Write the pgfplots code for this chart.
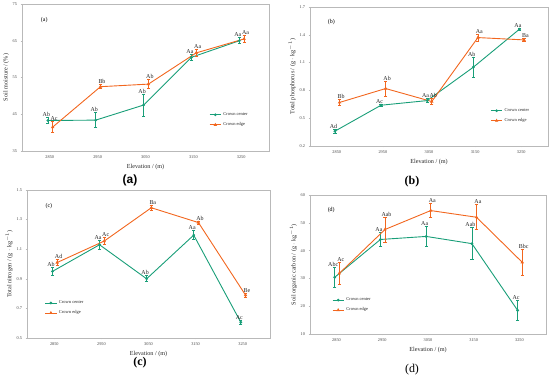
\documentclass[border=0pt]{standalone}
\usepackage{fontspec}
\setmainfont{Liberation Serif}
\newfontfamily\sansf{Liberation Sans}
\usepackage{pgfplots}
\usepackage{pgfplotstable}
\pgfplotsset{compat=1.18}
\definecolor{cgreen}{RGB}{24,158,120}
\definecolor{corange}{RGB}{242,102,30}
\definecolor{axgray}{RGB}{185,185,185}

\pgfplotstableread{
x y e lab
2846 43.3 0.9 Ab
2946 43.4 2.0 Ab
3046 47.5 3.0 Ab
3146 60.5 0.8 Aa
3246 65.0 0.8 Aa
}\acen
\pgfplotstableread{
x y e lab
2856 41.5 1.5 Ac
2956 52.5 0.5 Bb
3056 53.2 1.2 Ab
3156 61.7 1.0 Aa
3256 65.5 1.0 Aa
}\aedg
\pgfplotstableread{
x y e lab
2846 0.36 0.02 Ad
2946 0.64 0.01 Ac
3046 0.69 0.02 Aa
3146 1.05 0.11 Ab
3246 1.46 0.01 Aa
}\bcen
\pgfplotstableread{
x y e lab
2856 0.67 0.03 Bb
2956 0.82 0.08 Ab
3056 0.68 0.03 Ab
3156 1.37 0.04 Aa
3256 1.345 0.02 Ba
}\bedg
\pgfplotstableread{
x y e lab
2846 0.95 0.03 Ab
2946 1.13 0.03 Aa
3046 0.90 0.02 Ab
3146 1.195 0.03 Aa
3246 0.606 0.012 Ac
}\ccen
\pgfplotstableread{
x y e lab
2856 1.01 0.02 Ad
2956 1.155 0.025 Ac
3056 1.38 0.015 Ba
3156 1.28 0.01 Ab
3256 0.79 0.015 Be
}\cedg
\pgfplotstableread{
x y e lab
2846 30.4 3.6 Abc
2946 44.0 2.5 Aa
3046 45.1 3.5 Aa
3146 42.5 5.8 Aab
3246 18.5 3.5 Ac
}\dcen
\pgfplotstableread{
x y e lab
2856 31.8 4.0 Ac
2956 47.6 4.5 Aab
3056 54.4 2.5 Aa
3156 52.0 4.5 Aa
3256 35.8 4.6 Bbc
}\dedg

\pgfplotsset{
  panel/.style={
    scale only axis,
    anchor=south west,
    axis line style={axgray, line width=0.6pt},
    xmin=2792, xmax=3308,
    xtick={2850,2950,3050,3150,3250},
    tick style={axgray, line width=0.4pt},
    tick align=outside, major tick length=1.5pt,
    xtick pos=bottom, ytick pos=left,
    ticklabel style={font=\fontsize{4.3}{4.3}\selectfont, text=black!75},
    /pgf/number format/assume math mode=true,
    x tick label style={/pgf/number format/1000 sep={}},
    label style={font=\fontsize{6.2}{6.2}\selectfont, text=black!85},
    xlabel={Elevation / (m)},
    xlabel style={yshift=2pt},
    ylabel style={yshift=-3pt},
    legend style={draw=none, fill=none, font=\fontsize{4.5}{5}\selectfont, anchor=north west, row sep=1.5pt, text=black!85},
    legend cell align=left,
    legend image code/.code={\draw[mark repeat=2,mark phase=2] plot coordinates {(0cm,0cm)(0.2cm,0cm)(0.4cm,0cm)};},
  },
  cen/.style={cgreen, line width=0.9pt, mark=*, mark size=0.9pt,
    error bars/.cd, y dir=both, y explicit,
    error bar style={line width=0.7pt, cgreen},
    error mark options={rotate=90, mark size=1.6pt, line width=0.7pt, cgreen}},
  edg/.style={corange, line width=0.9pt, mark=triangle*, mark size=1.1pt,
    error bars/.cd, y dir=both, y explicit,
    error bar style={line width=0.7pt, corange},
    error mark options={rotate=90, mark size=1.6pt, line width=0.7pt, corange}},
  lab/.style={draw=none, mark=none, forget plot, nodes near coords, point meta=explicit symbolic,
    every node near coord/.style={font=\fontsize{6}{6}\selectfont, anchor=south, inner sep=0.6pt, text=black!85}},
  labL/.style={lab, every node near coord/.append style={xshift=-1.5pt}},
  labR/.style={lab, every node near coord/.append style={xshift=1.5pt}},
}

\begin{document}
\begin{tikzpicture}
\useasboundingbox (0,0) rectangle (550bp,379bp);

% (a)
\begin{axis}[panel, at={(22bp,228bp)}, width=247bp, height=147bp,
  ymin=35, ymax=75, ytick={35,45,55,65,75},
  ylabel={Soil moisture / (\%)},
  legend style={at={(0.745,0.29)}}]
\addplot[cen] table[x=x, y=y, y error=e] {\acen};
\addlegendentry{Crown center}
\addplot[edg] table[x=x, y=y, y error=e] {\aedg};
\addlegendentry{Crown edge}
\addplot[labL] table[x=x, y expr=\thisrow{y}+\thisrow{e}, meta=lab] {\acen};
\addplot[labR] table[x=x, y expr=\thisrow{y}+\thisrow{e}, meta=lab] {\aedg};
\node[font=\fontsize{6}{6}\selectfont] at (rel axis cs:0.09,0.89) {(a)};
\end{axis}

% (b)
\begin{axis}[panel, at={(310bp,233bp)}, width=238bp, height=139bp,
  ymin=0.2, ymax=1.7, ytick={0.2,0.5,0.8,1.1,1.4,1.7},
  y tick label style={/pgf/number format/.cd, fixed, precision=1, fixed zerofill},
  ylabel={Total phosphorus / (g $\cdot$ kg$^{-1}$)},
  legend style={at={(0.745,0.3)}}]
\addplot[cen] table[x=x, y=y, y error=e] {\bcen};
\addlegendentry{Crown center}
\addplot[edg] table[x=x, y=y, y error=e] {\bedg};
\addlegendentry{Crown edge}
\addplot[labL] table[x=x, y expr=\thisrow{y}+\thisrow{e}, meta=lab] {\bcen};
\addplot[labR] table[x=x, y expr=\thisrow{y}+\thisrow{e}, meta=lab] {\bedg};
\node[font=\fontsize{6}{6}\selectfont] at (rel axis cs:0.09,0.89) {(b)};
\end{axis}

% (c)
\begin{axis}[panel, at={(27bp,41bp)}, width=243bp, height=148bp,
  ymin=0.5, ymax=1.5, ytick={0.5,0.7,0.9,1.1,1.3,1.5},
  y tick label style={/pgf/number format/.cd, fixed, precision=1, fixed zerofill},
  ylabel={Total nitrogen / (g $\cdot$ kg$^{-1}$)},
  legend style={at={(0.06,0.28)}}]
\addplot[cen] table[x=x, y=y, y error=e] {\ccen};
\addlegendentry{Crown center}
\addplot[edg] table[x=x, y=y, y error=e] {\cedg};
\addlegendentry{Crown edge}
\addplot[labL] table[x=x, y expr=\thisrow{y}+\thisrow{e}, meta=lab] {\ccen};
\addplot[labR] table[x=x, y expr=\thisrow{y}+\thisrow{e}, meta=lab] {\cedg};
\node[font=\fontsize{6}{6}\selectfont] at (rel axis cs:0.09,0.89) {(c)};
\end{axis}

% (d)
\begin{axis}[panel, at={(310bp,45bp)}, width=236bp, height=139bp,
  ymin=10, ymax=60, ytick={10,20,30,40,50,60},
  ylabel={Soil organic carbon / (g $\cdot$ kg$^{-1}$)},
  legend style={at={(0.08,0.29)}}]
\addplot[cen] table[x=x, y=y, y error=e] {\dcen};
\addlegendentry{Crown center}
\addplot[edg] table[x=x, y=y, y error=e] {\dedg};
\addlegendentry{Crown edge}
\addplot[labL] table[x=x, y expr=\thisrow{y}+\thisrow{e}, meta=lab] {\dcen};
\addplot[labR] table[x=x, y expr=\thisrow{y}+\thisrow{e}, meta=lab] {\dedg};
\node[font=\fontsize{6}{6}\selectfont] at (rel axis cs:0.09,0.89) {(d)};
\end{axis}

\node[font=\sansf\bfseries\fontsize{12}{12}\selectfont] at (130bp,199bp) {(a)};
\node[font=\bfseries\fontsize{12}{12}\selectfont] at (412bp,197bp) {(b)};
\node[font=\bfseries\fontsize{12}{12}\selectfont] at (140bp,16bp) {(c)};
\node[font=\fontsize{12}{12}\selectfont] at (412bp,9bp) {(d)};
\end{tikzpicture}
\end{document}
